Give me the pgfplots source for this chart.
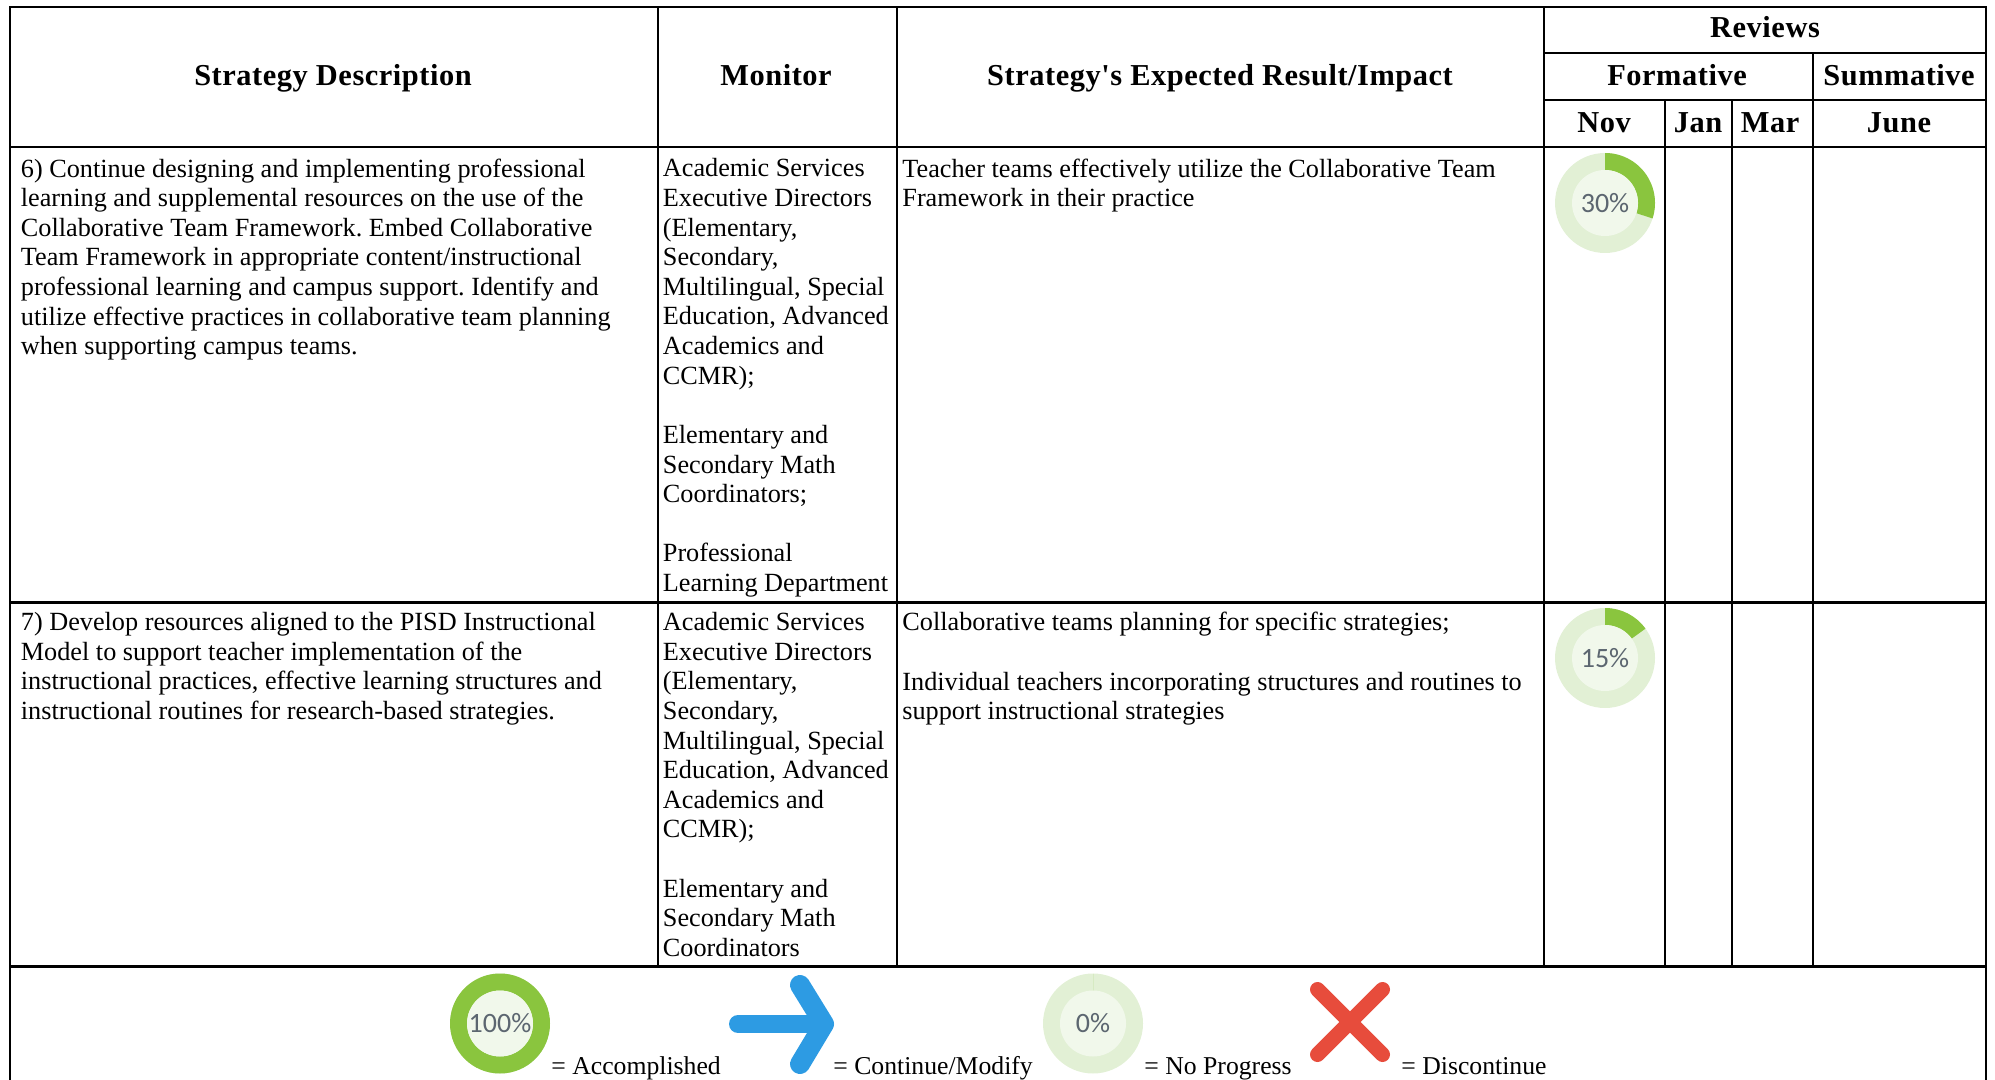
\documentclass[border=0pt]{standalone}
\usepackage{pgfplots}
\usepackage{fontspec}
\pgfplotsset{compat=1.18}
\setmainfont{Liberation Serif}
\newfontfamily\hdfont[LetterSpace=1.8]{Liberation Serif}
\newfontfamily\pctfont{Carlito}
\definecolor{donutgreen}{HTML}{8AC53E}
\definecolor{donutlight}{HTML}{E2F0D5}
\definecolor{donutcore}{HTML}{F1F8EB}
\definecolor{pcttext}{HTML}{5C6670}
\definecolor{arrowblue}{HTML}{2D9BE3}
\definecolor{xred}{HTML}{E74C3C}
\newcommand\defdonut[1]{%
  \pgfdeclareplotmark{donut#1}{%
    \pgfmathsetmacro\donutend{90-3.6*#1}%
    \pgfsetfillcolor{donutlight}%
    \pgfpathcircle{\pgfpointorigin}{25pt}\pgfusepath{fill}%
    \pgfsetfillcolor{donutgreen}%
    \pgfpathmoveto{\pgfpoint{0pt}{25pt}}%
    \pgfpatharc{90}{\donutend}{25pt}%
    \pgfpathlineto{\pgfpointpolar{\donutend}{16.5pt}}%
    \pgfpatharc{\donutend}{90}{16.5pt}%
    \pgfpathclose\pgfusepath{fill}%
    \pgfsetfillcolor{donutcore}%
    \pgfpathcircle{\pgfpointorigin}{16.5pt}\pgfusepath{fill}%
  }}
\defdonut{30}\defdonut{15}\defdonut{100}\defdonut{0.001}
\newcommand\body{\frenchspacing\fontsize{13.12}{14.81}\selectfont}
\newcommand\head{\hdfont\bfseries\fontsize{15.2}{16}\selectfont}
\tikzset{
  cell/.style={anchor=north west,inner sep=0pt,align=left,font=\body},
  hd/.style={anchor=base,inner sep=0pt,font=\head},
  pct/.style={anchor=center,inner sep=0pt,font=\pctfont\fontsize{14}{15}\selectfont,text=pcttext},
  lg/.style={anchor=base west,inner sep=0pt,font=\fontsize{12.85}{14.81}\selectfont},
}
\begin{document}
\begin{tikzpicture}
\useasboundingbox (0,1pt) rectangle (997.5pt,541pt);
\begin{axis}[
  at={(0,0)},anchor=south west,
  width=997.5pt,height=541pt,scale only axis,hide axis,
  xmin=0,xmax=1995,ymin=0,ymax=1082,y dir=reverse,clip=false,
  every axis plot/.append style={forget plot},
]
% grid lines
\pgfplotsset{grid line/.style={black,line width=1.4pt,line cap=butt,mark=none}}
\addplot[grid line] coordinates {(10,7)(10,1082)};
\addplot[grid line] coordinates {(1986,7)(1986,1082)};
\addplot[grid line] coordinates {(658,7)(658,967)};
\addplot[grid line] coordinates {(897,7)(897,967)};
\addplot[grid line] coordinates {(1544,7)(1544,967)};
\addplot[grid line] coordinates {(1665,100)(1665,967)};
\addplot[grid line] coordinates {(1732,100)(1732,967)};
\addplot[grid line] coordinates {(1813,53)(1813,967)};
\addplot[grid line] coordinates {(9,7)(1987,7)};
\addplot[grid line] coordinates {(1544,53)(1986,53)};
\addplot[grid line] coordinates {(1544,100)(1986,100)};
\addplot[grid line] coordinates {(10,147)(1986,147)};
\addplot[grid line] coordinates {(10,602.5)(1986,602.5)};
\addplot[grid line] coordinates {(10,966.5)(1986,966.5)};
% donuts
\pgfplotsset{donut/.style={only marks,nodes near coords={#1},
   every node near coord/.append style={pct}}}
\addplot[mark=donut30,donut={30\%}] coordinates {(1605,203)};
\addplot[mark=donut15,donut={15\%}] coordinates {(1605,658)};
\addplot[mark=donut100,donut={100\%}] coordinates {(500,1023.5)};
\addplot[mark=donut0.001,donut={0\%}] coordinates {(1093,1023.5)};
% arrow
\addplot[arrowblue,line width=9pt,line cap=round,line join=round] coordinates {(738,1024)(822,1024)};
\addplot[arrowblue,line width=10pt,line cap=round,line join=round] coordinates {(800,985)(824,1024)(800,1064)};
% cross
\addplot[xred,line width=7.5pt,line cap=round] coordinates {(1317.5,989.5)(1382.5,1054.5)};
\addplot[xred,line width=7.5pt,line cap=round] coordinates {(1317.5,1054.5)(1382.5,989.5)};
% headers
\node[hd] at (axis cs:333,86) {Strategy Description};
\node[hd] at (axis cs:776,86) {Monitor};
\node[hd] at (axis cs:1220,86) {Strategy's Expected Result/Impact};
\node[hd] at (axis cs:1765,38) {Reviews};
\node[hd] at (axis cs:1677,86) {Formative};
\node[hd] at (axis cs:1899,86) {Summative};
\node[hd] at (axis cs:1604,133) {Nov};
\node[hd] at (axis cs:1698,133) {Jan};
\node[hd] at (axis cs:1770,133) {Mar};
\node[hd] at (axis cs:1899,133) {June};
% row 6
\node[cell] at (axis cs:20.5,158.2) {6) Continue designing and implementing professional\\
learning and supplemental resources on the use of the\\
Collaborative Team Framework. Embed Collaborative\\
Team Framework in appropriate content/instructional\\
professional learning and campus support. Identify and\\
utilize effective practices in collaborative team planning\\
when supporting campus teams.};
\node[cell] at (axis cs:662.5,158.2) {Academic Services\\
Executive Directors\\
(Elementary,\\
Secondary,\\
Multilingual, Special\\
Education, Advanced\\
Academics and\\
CCMR);\\[14.81pt]
Elementary and\\
Secondary Math\\
Coordinators;\\[14.81pt]
Professional\\
Learning Department};
\node[cell] at (axis cs:902,158.2) {Teacher teams effectively utilize the Collaborative Team\\
Framework in their practice};
% row 7
\node[cell] at (axis cs:20.5,612) {7) Develop resources aligned to the PISD Instructional\\
Model to support teacher implementation of the\\
instructional practices, effective learning structures and\\
instructional routines for research-based strategies.};
\node[cell] at (axis cs:662.5,612) {Academic Services\\
Executive Directors\\
(Elementary,\\
Secondary,\\
Multilingual, Special\\
Education, Advanced\\
Academics and\\
CCMR);\\[14.81pt]
Elementary and\\
Secondary Math\\
Coordinators};
\node[cell] at (axis cs:902,612) {Collaborative teams planning for specific strategies;\\[14.81pt]
Individual teachers incorporating structures and routines to\\
support instructional strategies};
% legend
\node[lg] at (axis cs:551,1074) {= Accomplished};
\node[lg] at (axis cs:833,1074) {= Continue/Modify};
\node[lg] at (axis cs:1144,1074) {= No Progress};
\node[lg] at (axis cs:1401,1074) {= Discontinue};
\end{axis}
\end{tikzpicture}
\end{document}
